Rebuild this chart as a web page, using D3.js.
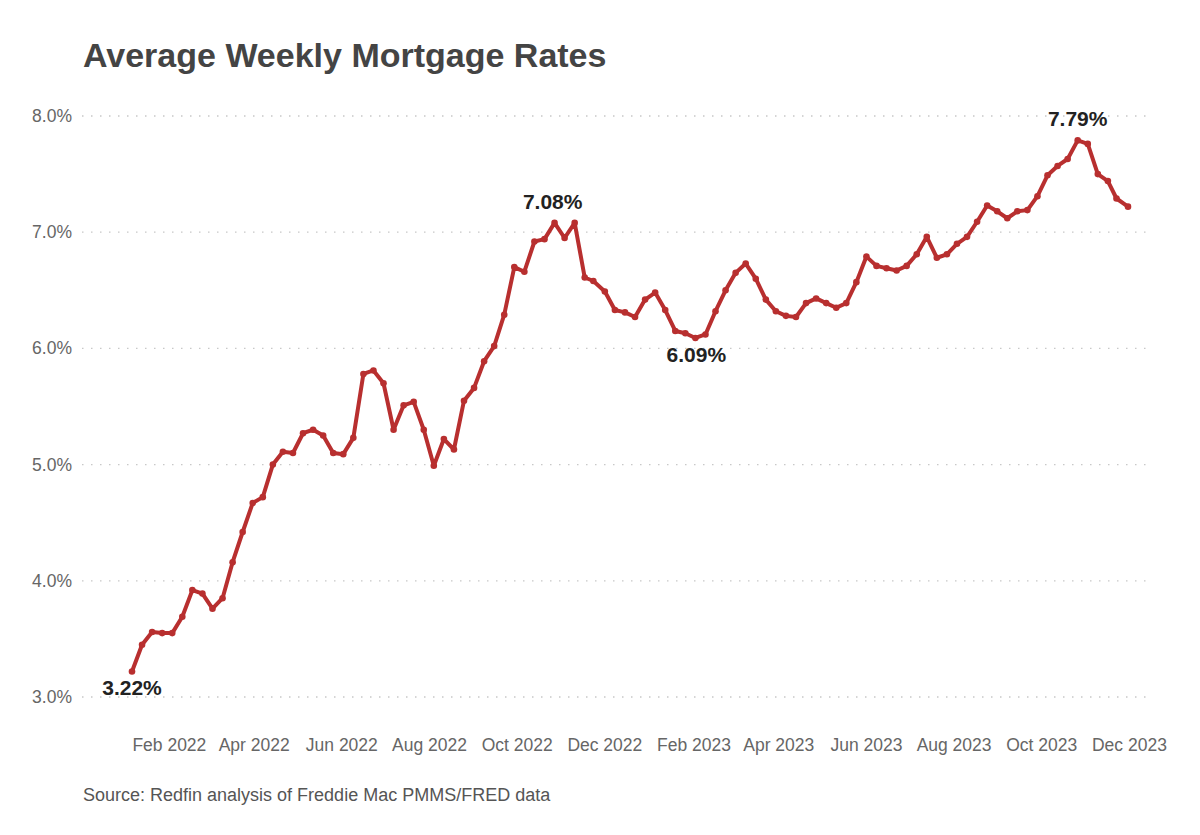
<!DOCTYPE html>
<html>
<head>
<meta charset="utf-8">
<script src="https://cdn.jsdelivr.net/npm/d3@7"></script>
<style>
  body { margin: 0; background: #fff; font-family: "Liberation Sans", Arial, sans-serif; }
</style>
</head>
<body>
<script>
// weekly dates, 2022-01-06 .. 2023-11-30 (Freddie Mac PMMS)
var dates = [
  "2022-01-06","2022-01-13","2022-01-20","2022-01-27","2022-02-03","2022-02-10","2022-02-17","2022-02-24",
  "2022-03-03","2022-03-10","2022-03-17","2022-03-24","2022-03-31","2022-04-07","2022-04-14","2022-04-21",
  "2022-04-28","2022-05-05","2022-05-12","2022-05-19","2022-05-26","2022-06-02","2022-06-09","2022-06-16",
  "2022-06-23","2022-06-30","2022-07-07","2022-07-14","2022-07-21","2022-07-28","2022-08-04","2022-08-11",
  "2022-08-18","2022-08-25","2022-09-01","2022-09-08","2022-09-15","2022-09-22","2022-09-29","2022-10-06",
  "2022-10-13","2022-10-20","2022-10-27","2022-11-03","2022-11-10","2022-11-17","2022-11-23","2022-12-01",
  "2022-12-08","2022-12-15","2022-12-22","2022-12-29","2023-01-05","2023-01-12","2023-01-19","2023-01-26",
  "2023-02-02","2023-02-09","2023-02-16","2023-02-23","2023-03-02","2023-03-09","2023-03-16","2023-03-23",
  "2023-03-30","2023-04-06","2023-04-13","2023-04-20","2023-04-27","2023-05-04","2023-05-11","2023-05-18",
  "2023-05-25","2023-06-01","2023-06-08","2023-06-15","2023-06-22","2023-06-29","2023-07-06","2023-07-13",
  "2023-07-20","2023-07-27","2023-08-03","2023-08-10","2023-08-17","2023-08-24","2023-08-31","2023-09-07",
  "2023-09-14","2023-09-21","2023-09-28","2023-10-05","2023-10-12","2023-10-19","2023-10-26","2023-11-02",
  "2023-11-09","2023-11-16","2023-11-22","2023-11-30"
];
var rates = [
  3.22,3.45,3.56,3.55,3.55,3.69,3.92,3.89,
  3.76,3.85,4.16,4.42,4.67,4.72,5.00,5.11,
  5.10,5.27,5.30,5.25,5.10,5.09,5.23,5.78,
  5.81,5.70,5.30,5.51,5.54,5.30,4.99,5.22,
  5.13,5.55,5.66,5.89,6.02,6.29,6.70,6.66,
  6.92,6.94,7.08,6.95,7.08,6.61,6.58,6.49,
  6.33,6.31,6.27,6.42,6.48,6.33,6.15,6.13,
  6.09,6.12,6.32,6.50,6.65,6.73,6.60,6.42,
  6.32,6.28,6.27,6.39,6.43,6.39,6.35,6.39,
  6.57,6.79,6.71,6.69,6.67,6.71,6.81,6.96,
  6.78,6.81,6.90,6.96,7.09,7.23,7.18,7.12,
  7.18,7.19,7.31,7.49,7.57,7.63,7.79,7.76,
  7.50,7.44,7.29,7.22
];
var yTicks = [3, 4, 5, 6, 7, 8];
var xTicks = ["2022-02-01","2022-04-01","2022-06-01","2022-08-01","2022-10-01","2022-12-01",
              "2023-02-01","2023-04-01","2023-06-01","2023-08-01","2023-10-01","2023-12-01"];
// labelled points: date, placement
var notes = [
  { date: "2022-01-06", pos: "below" },
  { date: "2022-11-10", pos: "above", dx: -22 },
  { date: "2023-02-02", pos: "below", dx: 1 },
  { date: "2023-10-26", pos: "above" }
];

var width = 1200, height = 835;
var parse = d3.utcParse("%Y-%m-%d");
var data = dates.map((d, i) => ({ date: parse(d), value: rates[i] }));

var svg = d3.select("body").append("svg")
  .attr("width", width).attr("height", height);

svg.append("text")
  .attr("x", 83).attr("y", 67)
  .attr("font-size", 34).attr("font-weight", "bold")
  .attr("fill", "#444")
  .text("Average Weekly Mortgage Rates");

var x = d3.scaleUtc().domain(d3.extent(data, d => d.date)).range([132, 1128]);
var y = d3.scaleLinear().domain([3, 8]).range([697, 116]);

// gridlines
svg.append("g").selectAll("line").data(yTicks).join("line")
  .attr("x1", 82).attr("x2", 1148)
  .attr("y1", d => y(d)).attr("y2", d => y(d))
  .attr("stroke", "#c8c8c8").attr("stroke-width", 1.3)
  .attr("stroke-dasharray", "1.5,7.5");

svg.append("g").selectAll("text").data(yTicks).join("text")
  .attr("x", 72).attr("y", d => y(d) + 6)
  .attr("text-anchor", "end")
  .attr("font-size", 17.5).attr("fill", "#666")
  .text(d => d.toFixed(1) + "%");

svg.append("g").selectAll("text").data(xTicks.map(parse)).join("text")
  .attr("x", d => x(d)).attr("y", 751)
  .attr("text-anchor", "middle")
  .attr("font-size", 17.5).attr("fill", "#666")
  .text(d3.utcFormat("%b %Y"));

var line = d3.line().x(d => x(d.date)).y(d => y(d.value));

svg.append("path").datum(data)
  .attr("d", line)
  .attr("fill", "none")
  .attr("stroke", "#b82f2f")
  .attr("stroke-width", 4)
  .attr("stroke-linejoin", "round");

svg.append("g").selectAll("circle").data(data).join("circle")
  .attr("cx", d => x(d.date)).attr("cy", d => y(d.value))
  .attr("r", 3.3).attr("fill", "#b82f2f");

svg.append("g").selectAll("text").data(notes).join("text")
  .each(function(n) {
    var p = data.find(d => +d.date === +parse(n.date));
    d3.select(this)
      .attr("x", x(p.date) + (n.dx || 0))
      .attr("y", y(p.value) + (n.pos === "above" ? -14 : 24))
      .text(p.value.toFixed(2) + "%");
  })
  .attr("text-anchor", "middle")
  .attr("font-size", 21).attr("font-weight", "bold")
  .attr("fill", "#222");

svg.append("text")
  .attr("x", 83).attr("y", 801)
  .attr("font-size", 18).attr("fill", "#555")
  .text("Source: Redfin analysis of Freddie Mac PMMS/FRED data");
</script>
</body>
</html>
